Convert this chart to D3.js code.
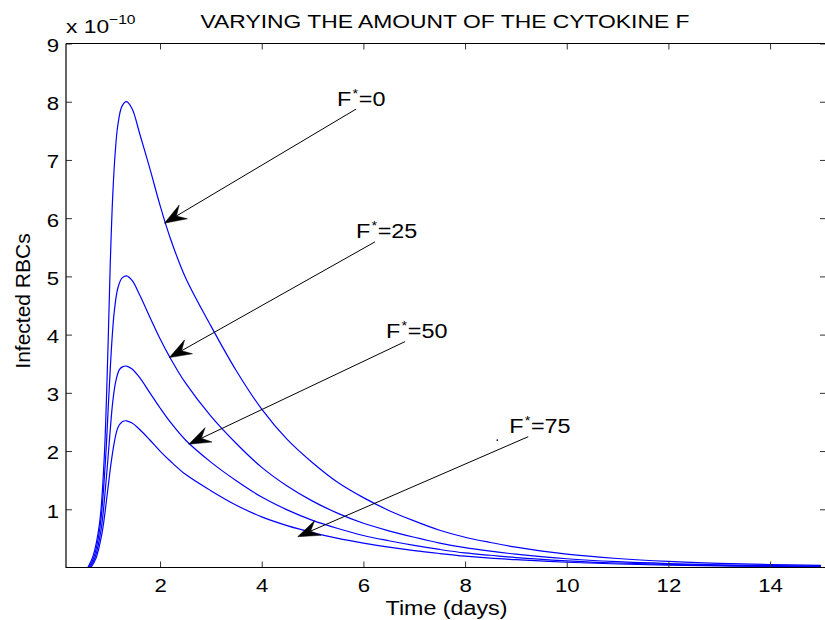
<!DOCTYPE html>
<html>
<head>
<meta charset="utf-8">
<script src="https://cdn.jsdelivr.net/npm/d3@7/dist/d3.min.js"></script>
<style>
  html, body { margin: 0; padding: 0; background: #fff; }
  svg { display: block; font-family: "Liberation Sans", Arial, Helvetica, sans-serif; }
</style>
</head>
<body>
<svg id="chart" width="825" height="620"></svg>
<script>
// ---------- data (values in units of 1e-10) ----------
const chartTitle = "VARYING THE AMOUNT OF THE CYTOKINE F";
const xLabel = "Time (days)";
const yLabel = "Infected RBCs";
const yExponent = "\u221210";
const xTicks = [2, 4, 6, 8, 10, 12, 14];
const yTicks = [1, 2, 3, 4, 5, 6, 7, 8, 9];
const seriesNames = ["0", "25", "50", "75"];

const timeF0 = [0.58,0.68,0.81,0.9,0.97,1.02,1.07,1.12,1.17,1.25,1.34,1.45,1.6,1.8,2.0,2.2,2.5,3.0,3.5,4.0,4.5,5.0,5.5,6.0,6.5,7.0,7.5,8.0,8.5,9.0,10,11,12,13,14,15];
const infF0  = [0,0.19,0.76,1.85,3.6,5.2,6.4,7.15,7.6,7.92,8.0,7.88,7.45,6.85,6.22,5.66,4.98,4.15,3.38,2.72,2.2,1.8,1.46,1.2,0.98,0.80,0.64,0.52,0.43,0.35,0.23,0.155,0.105,0.072,0.05,0.035];

const timeF25 = [0.6,0.7,0.82,0.92,0.99,1.05,1.1,1.17,1.25,1.34,1.45,1.6,1.8,2.0,2.2,2.5,3.0,3.5,4.0,4.5,5.0,5.5,6.0,6.5,7.0,7.5,8.0,8.5,9.0,10,11,12,13,14,15];
const infF25  = [0,0.18,0.7,1.75,2.9,3.85,4.4,4.8,4.97,5.01,4.93,4.68,4.30,3.93,3.6,3.17,2.6,2.13,1.72,1.40,1.14,0.93,0.76,0.63,0.52,0.42,0.34,0.28,0.23,0.15,0.10,0.068,0.046,0.032,0.022];

const timeF50 = [0.62,0.72,0.84,0.94,1.01,1.07,1.13,1.2,1.27,1.34,1.45,1.6,1.8,2.0,2.2,2.5,3.0,3.5,4.0,4.5,5.0,5.5,6.0,6.5,7.0,7.5,8.0,8.5,9.0,10,11,12,13,14,15];
const infF50  = [0,0.17,0.65,1.5,2.25,2.85,3.2,3.4,3.45,3.46,3.41,3.26,3.0,2.74,2.5,2.19,1.81,1.49,1.21,0.99,0.81,0.67,0.55,0.46,0.38,0.31,0.25,0.21,0.17,0.115,0.077,0.052,0.035,0.024,0.017];

const timeF75 = [0.64,0.74,0.86,0.96,1.03,1.1,1.17,1.25,1.34,1.45,1.6,1.8,2.0,2.2,2.5,3.0,3.5,4.0,4.5,5.0,5.5,6.0,6.5,7.0,7.5,8.0,8.5,9.0,10,11,12,13,14,15];
const infF75  = [0,0.16,0.6,1.25,1.75,2.15,2.4,2.5,2.52,2.48,2.37,2.19,2.0,1.83,1.6,1.32,1.07,0.87,0.72,0.60,0.50,0.42,0.35,0.29,0.24,0.195,0.16,0.135,0.09,0.06,0.04,0.027,0.018,0.012];

// annotation arrows: tail (text end) and head (tip), in data units
const arrowTailT = [5.855, 6.228, 6.82, 9.243];
const arrowTailV = [7.873, 5.593, 3.88, 2.247];
const arrowHeadT = [2.085, 2.183, 2.564, 4.708];
const arrowHeadV = [5.914, 3.605, 2.117, 0.529];

// ---------- layout ----------
const svg = d3.select("#chart");
const x = d3.scaleLinear().domain([0.15, 15.1]).range([66, 826]);
const y = d3.scaleLinear().domain([0, 9]).range([567.5, 43.5]);
const SX = 1.2; // horizontal glyph stretch of the reference font

const times = [timeF0, timeF25, timeF50, timeF75];
const vals = [infF0, infF25, infF50, infF75];
const series = seriesNames.map((n, i) => ({
  name: n,
  pts: times[i].map((t, j) => [t, vals[i][j]])
}));

// curves
svg.append("defs").append("clipPath").attr("id", "plotclip")
  .append("rect").attr("x", 66).attr("y", 43.5).attr("width", 760).attr("height", 524.5);
const line = d3.line().x(d => x(d[0])).y(d => y(d[1])).curve(d3.curveCatmullRom.alpha(0.5));
svg.append("g").attr("clip-path", "url(#plotclip)")
  .selectAll("path").data(series).join("path")
  .attr("d", d => line(d.pts))
  .attr("fill", "none")
  .attr("stroke", "#0000ff")
  .attr("stroke-width", 1.2);

// axes
const tickFont = 18.5;
const gx = svg.append("g").attr("transform", `translate(0,${y(0)})`)
  .call(d3.axisBottom(x).tickValues(xTicks).tickSizeInner(-6).tickSizeOuter(0).tickPadding(11.5).tickFormat(d3.format("d")));
const gxt = svg.append("g").attr("transform", `translate(0,${y(9)})`)
  .call(d3.axisTop(x).tickValues(xTicks).tickSizeInner(-6).tickSizeOuter(0).tickFormat(""));
const gy = svg.append("g").attr("transform", `translate(${x.range()[0]},0)`)
  .call(d3.axisLeft(y).tickValues(yTicks).tickSizeInner(-6).tickSizeOuter(0).tickPadding(7).tickFormat(d3.format("d")));
const gyr = svg.append("g").attr("transform", `translate(${x.range()[1]},0)`)
  .call(d3.axisRight(y).tickValues(yTicks).tickSizeInner(-6).tickSizeOuter(0).tickFormat(""));

[gx, gxt, gy, gyr].forEach(g => {
  g.select(".domain").remove();
  g.selectAll(".tick line").attr("stroke", "#333").attr("stroke-width", 1);
  g.selectAll(".tick text")
    .attr("fill", "#000")
    .style("font-family", '"Liberation Sans", Arial, sans-serif')
    .style("font-size", tickFont + "px");
});
gx.selectAll(".tick text").attr("transform", `scale(${SX},1)`);
gy.selectAll(".tick text").attr("transform", `scale(${SX},1)`).attr("x", -7 / SX).attr("y", 2);

// frame
const [x0, x1] = x.range();
const [yb, yt] = y.range();
svg.append("path")
  .attr("d", `M${x0},${yt}H${x1}M${x0},${yt}V${yb}H${x1}`)
  .attr("fill", "none").attr("stroke", "#000").attr("stroke-width", 1.2);

// title
svg.append("g").attr("transform", "translate(445,27.5)")
  .append("text").attr("transform", `scale(1.23,1)`)
  .attr("text-anchor", "middle").style("font-size", "18.6px").attr("fill", "#000")
  .text(chartTitle);

// exponent label
const ex = svg.append("g").attr("transform", "translate(66,33.3)")
  .append("text").attr("transform", `scale(${SX},1)`).style("font-size", "19px").attr("fill", "#000");
ex.append("tspan").text("x 10");
ex.append("tspan").attr("dy", -9.5).style("font-size", "13px").text(yExponent);

// axis labels
svg.append("g").attr("transform", "translate(446.5,615)")
  .append("text").attr("transform", `scale(${SX},1)`)
  .attr("text-anchor", "middle").style("font-size", "19.4px").attr("fill", "#000")
  .text(xLabel);
svg.append("text")
  .attr("transform", "translate(30,301) rotate(-90)")
  .attr("text-anchor", "middle").style("font-size", "21px").attr("fill", "#000")
  .text(yLabel);

// annotations
const arrows = seriesNames.map((n, i) => ({
  name: n,
  tx: x(arrowTailT[i]), ty: y(arrowTailV[i]),
  hx: x(arrowHeadT[i]), hy: y(arrowHeadV[i])
}));
const ag = svg.append("g");
arrows.forEach(a => {
  const ang = Math.atan2(a.ty - a.hy, a.tx - a.hx);
  const L = 22, W = 8, N = 14;
  const c = Math.cos(ang), s = Math.sin(ang);
  const pt = (u, v) => [a.hx + u * c - v * s, a.hy + u * s + v * c];
  const notch = pt(N, 0);
  ag.append("line")
    .attr("x1", a.tx).attr("y1", a.ty).attr("x2", notch[0]).attr("y2", notch[1])
    .attr("stroke", "#000").attr("stroke-width", 1);
  const p = [pt(0, 0), pt(L, -W), notch, pt(L, W)];
  ag.append("path").attr("d", "M" + p.map(q => q.join(",")).join("L") + "Z")
    .attr("fill", "#000").attr("stroke", "#000").attr("stroke-width", 0.5);
  const tg = ag.append("g").attr("transform", `translate(${a.tx - 19},${a.ty - 3.5})`);
  const t = tg.append("text").attr("transform", `scale(${SX},1)`).style("font-size", "19.5px").attr("fill", "#000");
  t.append("tspan").text("F");
  t.append("tspan").attr("dy", -8).attr("dx", 1).style("font-size", "12px").text("*");
  t.append("tspan").attr("dy", 8).attr("dx", 0.5).text("=" + a.name);
});
// small stray dot near the last label
ag.append("circle").attr("cx", arrows[3].tx - 31).attr("cy", arrows[3].ty + 3.5).attr("r", 0.8).attr("fill", "#000");
</script>
</body>
</html>
